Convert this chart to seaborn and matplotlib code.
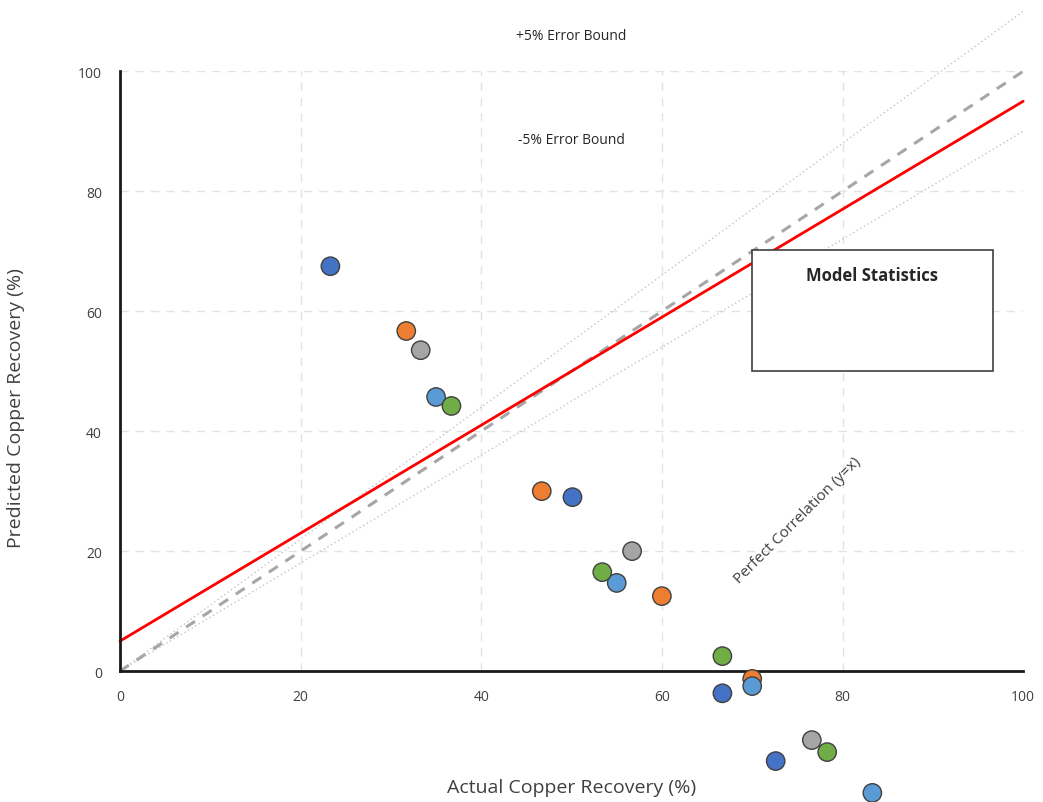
import numpy as np
import pandas as pd
import matplotlib
matplotlib.use("Agg")
import matplotlib.pyplot as plt
import seaborn as sns
from matplotlib.patches import Rectangle

# data
series = ["A", "B", "C", "D", "E"]
colors = ["#4472C4", "#ED7D31", "#A5A5A5", "#5B9BD5", "#70AD47"]

actual_a = [23.3, 50.1, 66.7, 72.6]
pred_a = [67.5, 29.0, -3.7, -15.0]
actual_b = [31.7, 46.7, 60.0, 70.0]
pred_b = [56.7, 30.0, 12.5, -1.3]
actual_c = [33.3, 56.7, 76.6]
pred_c = [53.5, 20.0, -11.5]
actual_d = [35.0, 55.0, 70.0, 83.3]
pred_d = [45.7, 14.7, -2.5, -20.3]
actual_e = [36.7, 53.4, 66.7, 78.3]
pred_e = [44.2, 16.5, 2.5, -13.5]

fit_intercept = 5.0
fit_slope = 0.9
bound = 0.10
ticks = [0, 20, 40, 60, 80, 100]

df = pd.concat([
    pd.DataFrame({"actual": a, "predicted": p, "series": s})
    for a, p, s in zip(
        [actual_a, actual_b, actual_c, actual_d, actual_e],
        [pred_a, pred_b, pred_c, pred_d, pred_e],
        series,
    )
], ignore_index=True)

sns.set_theme(style="white")
plt.rcParams["font.family"] = ["Open Sans", "DejaVu Sans"]

fig = plt.figure(figsize=(10.43, 8.03), dpi=100)
ax = fig.add_axes([0.115, 0.163, 0.866, 0.747])

# grid (no vertical line at 100)
for t in ticks[1:]:
    if t < 100:
        ax.plot([t, t], [0, 100], color="#e3e3e3", lw=1, ls=(0, (6, 5)), zorder=0)
    ax.plot([0, 100], [t, t], color="#e3e3e3", lw=1, ls=(0, (6, 5)), zorder=0)

x_line = np.array([0, 100])
ax.plot(x_line, x_line * (1 + bound), color="#c4c4c4", lw=1, ls=(0, (1, 2)), clip_on=False, zorder=1)
ax.plot(x_line, x_line * (1 - bound), color="#c4c4c4", lw=1, ls=(0, (1, 2)), clip_on=False, zorder=1)
ax.plot(x_line, x_line, color="#a6a6a6", lw=2.2, ls=(0, (3.5, 3)), clip_on=False, zorder=1)
ax.plot(x_line, fit_intercept + fit_slope * x_line, color="#ff0000", lw=2, clip_on=False, zorder=2)

sns.scatterplot(data=df, x="actual", y="predicted", hue="series", palette=colors,
                s=175, edgecolor="#404040", linewidth=1, legend=False, ax=ax,
                clip_on=False, zorder=5)
for coll in ax.collections:
    coll.set_clip_on(False)

ax.set_xlim(0, 100)
ax.set_ylim(0, 100)
ax.set_xticks(ticks)
ax.set_yticks(ticks)
ax.tick_params(axis="both", length=5, width=1.5, color="#404040", labelsize=10,
               labelcolor="#404040", direction="out", pad=8)
for side in ["top", "right"]:
    ax.spines[side].set_visible(False)
for side in ["left", "bottom"]:
    ax.spines[side].set_linewidth(2)
    ax.spines[side].set_color("#1a1a1a")

ax.set_xlabel("Actual Copper Recovery (%)", fontsize=14, color="#404040")
ax.set_ylabel("Predicted Copper Recovery (%)", fontsize=14, color="#404040")
ax.xaxis.set_label_coords(0.5, -0.178)
ax.yaxis.set_label_coords(-0.105, 0.44)

ax.text(50, 106, "+5% Error Bound", ha="center", va="center", fontsize=10, clip_on=False)
ax.text(50, 88.7, "-5% Error Bound", ha="center", va="center", fontsize=10)
ax.text(75, 25.3, "Perfect Correlation (y=x)", ha="center", va="center", fontsize=11,
        rotation=45, color="#404040")

ax.add_patch(Rectangle((70, 50), 26.7, 20.2, facecolor="white", edgecolor="#404040",
                       lw=1.2, zorder=6))
ax.text(83.3, 66, "Model Statistics", ha="center", va="center", fontsize=12,
        fontweight="bold", zorder=7)

fig.savefig("out.png", dpi=100)
